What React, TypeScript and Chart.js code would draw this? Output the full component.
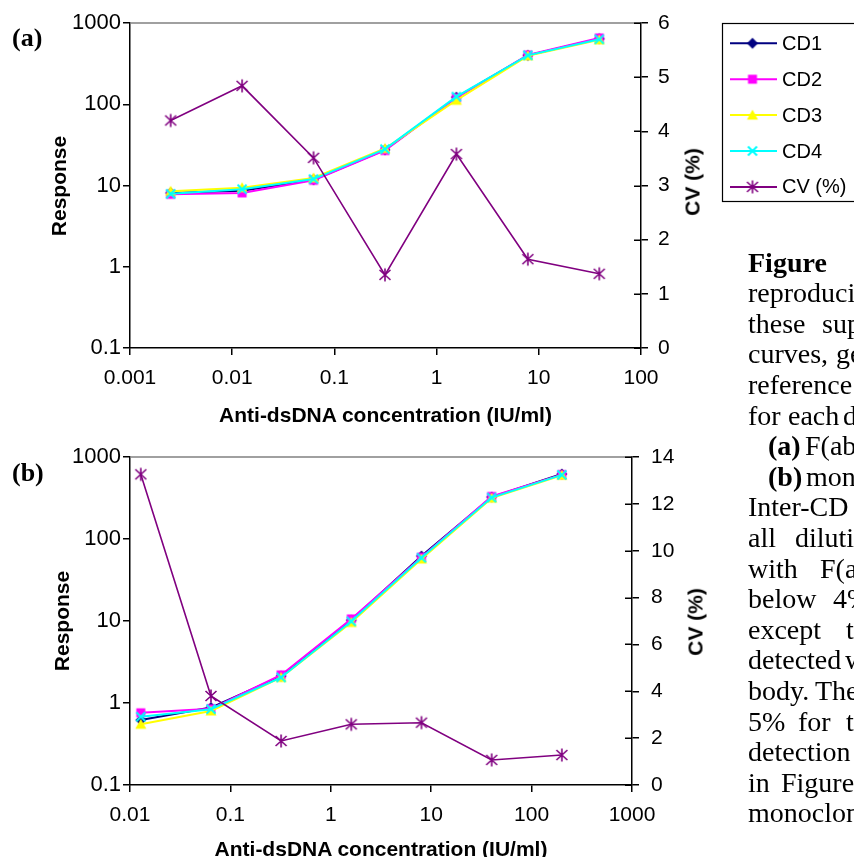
import React, { useEffect, useRef } from 'react';
import { Chart, registerables } from 'chart.js';

Chart.register(...registerables);

const SANS = "'Liberation Sans', Arial, sans-serif";
const SERIF = "'Liberation Serif', 'Times New Roman', serif";

// ---- Panel (a): F(ab')2 reference, concentration in IU/ml ----
const concA = [0.0025, 0.0125, 0.0625, 0.3125, 1.5625, 7.8125, 39.0625];
const cd1A = [8.1, 8.6, 11.8, 27.5, 122, 400, 640];
const cd2A = [7.8, 8.1, 11.6, 27.0, 120, 405, 655];
const cd3A = [8.5, 9.4, 12.4, 28.5, 112, 395, 620];
const cd4A = [7.9, 9.0, 12.0, 28.0, 124, 400, 630];
const cvA = [4.2, 4.84, 3.51, 1.35, 3.58, 1.64, 1.37];

// ---- Panel (b): monoclonal reference ----
const concB = [0.0128, 0.064, 0.32, 1.6, 8, 40, 200];
const cd1B = [0.62, 0.88, 2.13, 10.2, 62, 325, 620];
const cd2B = [0.76, 0.85, 2.2, 10.6, 60, 330, 610];
const cd3B = [0.55, 0.8, 2.05, 9.6, 57, 315, 600];
const cd4B = [0.68, 0.84, 2.05, 9.9, 59, 320, 605];
const cvB = [13.26, 3.8, 1.88, 2.59, 2.66, 1.07, 1.28];

// ---- Axis ticks ----
const responseTicks = [0.1, 1, 10, 100, 1000];
const concTicksA = [0.001, 0.01, 0.1, 1, 10, 100];
const concTicksB = [0.01, 0.1, 1, 10, 100, 1000];
const cvTicksA = [0, 1, 2, 3, 4, 5, 6];
const cvTicksB = [0, 2, 4, 6, 8, 10, 12, 14];

const seriesNames = ['CD1', 'CD2', 'CD3', 'CD4', 'CV (%)'];
const seriesColors = ['#000080', '#FF00FF', '#FFFF00', '#00FFFF', '#800080'];
const markerKinds = ['diamond', 'square', 'triangle', 'cross', 'star'];

const axisTitle = 'Anti-dsDNA concentration (IU/ml)';

// Caption words: [text, left, bold?] per line; the column is cut at the page edge
const captionLines: [string, number, boolean?][][] = [
  [['Figure', 748, true]],
  [['reproducibility', 748]],
  [['these', 748], ['supplementary', 822]],
  [['curves,', 748], ['generated', 836]],
  [['reference', 748]],
  [['for', 748], ['each', 788], ['dilution', 843]],
  [['(a)', 768, true], ["F(ab')2", 805]],
  [['(b)', 768, true], ['monoclonal', 806]],
  [['Inter-CD', 748]],
  [['all', 748], ['dilutions', 795]],
  [['with', 748], ["F(ab')2", 820]],
  [['below', 748], ['4%', 833]],
  [['except', 748], ['the', 846]],
  [['detected', 748], ['with', 845]],
  [['body.', 748], ['The', 815]],
  [['5%', 748], ['for', 798], ['the', 846]],
  [['detection', 748]],
  [['in', 748], ['Figure', 781]],
  [['monoclonal', 748]],
];
const captionFirstBaseline = 272;
const captionLineStep = 30.6;

function makeMarker(kind: string, color: string): HTMLCanvasElement {
  const c = document.createElement('canvas');
  c.width = 16;
  c.height = 16;
  const g = c.getContext('2d')!;
  g.translate(8, 8);
  g.fillStyle = color;
  g.strokeStyle = color;
  g.lineCap = 'butt';
  g.beginPath();
  if (kind === 'diamond') {
    g.moveTo(0, -5.5);
    g.lineTo(5.5, 0);
    g.lineTo(0, 5.5);
    g.lineTo(-5.5, 0);
    g.closePath();
    g.fill();
  } else if (kind === 'square') {
    g.rect(-4.5, -4.5, 9, 9);
    g.fill();
  } else if (kind === 'triangle') {
    g.moveTo(0, -5.5);
    g.lineTo(5.5, 4.5);
    g.lineTo(-5.5, 4.5);
    g.closePath();
    g.fill();
  } else if (kind === 'cross') {
    g.lineWidth = 2;
    g.moveTo(-4.5, -4.5);
    g.lineTo(4.5, 4.5);
    g.moveTo(4.5, -4.5);
    g.lineTo(-4.5, 4.5);
    g.stroke();
  } else {
    g.lineWidth = 1.6;
    g.moveTo(-5.5, -5);
    g.lineTo(5.5, 5);
    g.moveTo(5.5, -5);
    g.lineTo(-5.5, 5);
    g.moveTo(0, -6.5);
    g.lineTo(0, 6.5);
    g.stroke();
  }
  return c;
}

// Gray plot-area top edge and the inner half of the right axis tick marks
const frameDecor = {
  id: 'frameDecor',
  beforeDatasetsDraw(chart: any) {
    const { ctx, chartArea } = chart;
    ctx.save();
    ctx.strokeStyle = '#808080';
    ctx.lineWidth = 1.5;
    ctx.beginPath();
    ctx.moveTo(chartArea.left, chartArea.top);
    ctx.lineTo(chartArea.right, chartArea.top);
    ctx.stroke();
    ctx.restore();
  },
  afterDraw(chart: any) {
    const { ctx, chartArea } = chart;
    const s = chart.scales.y2;
    ctx.save();
    ctx.strokeStyle = '#000';
    ctx.lineWidth = 1.5;
    ctx.beginPath();
    s.ticks.forEach((t: any) => {
      const y = Math.round(s.getPixelForValue(t.value)) + 0.25;
      ctx.moveTo(chartArea.right - 7, y);
      ctx.lineTo(chartArea.right, y);
    });
    ctx.stroke();
    ctx.restore();
  },
};

function makeLegendPlugin(markers: HTMLCanvasElement[]) {
  return {
    id: 'sideLegend',
    afterDraw(chart: any) {
      const ctx = chart.ctx;
      ctx.save();
      ctx.strokeStyle = '#000';
      ctx.lineWidth = 1.2;
      ctx.strokeRect(722.5, 23.5, 150, 178);
      seriesNames.forEach((name, i) => {
        const y = 43.3 + i * 35.9;
        ctx.strokeStyle = seriesColors[i];
        ctx.lineWidth = 2;
        ctx.beginPath();
        ctx.moveTo(730, y);
        ctx.lineTo(777, y);
        ctx.stroke();
        ctx.drawImage(markers[i], 752.5 - 8, y - 8);
        ctx.fillStyle = '#000';
        ctx.font = `20px ${SANS}`;
        ctx.textBaseline = 'middle';
        ctx.textAlign = 'left';
        ctx.fillText(name, 782, y + 1);
      });
      ctx.restore();
    },
  };
}

type PanelSpec = {
  conc: number[];
  cds: number[][];
  cv: number[];
  xMin: number;
  xMax: number;
  xTicks: number[];
  cvMax: number;
  cvTicks: number[];
  padding: { left: number; top: number; right: number; bottom: number };
  rightPad: number;
};

function buildChart(canvas: HTMLCanvasElement, p: PanelSpec, markers: HTMLCanvasElement[], extra: any[]) {
  const tickFont = { family: SANS, size: 21 };
  const grid = { drawOnChartArea: false, drawTicks: true, tickLength: 7, color: '#000', lineWidth: 1.5 };
  const border = { display: true, color: '#000', width: 1.5 };

  const datasets: any[] = p.cds.map((vals, i) => ({
    label: seriesNames[i],
    data: p.conc.map((x, j) => ({ x, y: vals[j] })),
    borderColor: seriesColors[i],
    backgroundColor: seriesColors[i],
    borderWidth: 2,
    pointStyle: markers[i],
    pointRadius: 5,
    yAxisID: 'y',
    order: 4 - i,
  }));
  datasets.push({
    label: seriesNames[4],
    data: p.conc.map((x, j) => ({ x, y: p.cv[j] })),
    borderColor: seriesColors[4],
    backgroundColor: seriesColors[4],
    borderWidth: 1.6,
    pointStyle: markers[4],
    pointRadius: 5,
    yAxisID: 'y2',
    order: 0,
  });

  return new Chart(canvas, {
    type: 'line',
    data: { datasets },
    options: {
      responsive: false,
      animation: false,
      devicePixelRatio: 1,
      events: [],
      layout: { padding: p.padding },
      plugins: { legend: { display: false }, tooltip: { enabled: false } },
      scales: {
        x: {
          type: 'logarithmic',
          position: 'bottom',
          min: p.xMin,
          max: p.xMax,
          afterBuildTicks: (s: any) => {
            s.ticks = p.xTicks.map((v) => ({ value: v }));
          },
          afterFit: (s: any) => {
            s.height = 50;
          },
          ticks: {
            callback: (v: any) => String(v),
            font: tickFont,
            color: '#000',
            padding: 11,
            maxRotation: 0,
            autoSkip: false,
          },
          grid,
          border,
        },
        y: {
          type: 'logarithmic',
          position: 'left',
          min: 0.1,
          max: 1000,
          afterBuildTicks: (s: any) => {
            s.ticks = responseTicks.map((v) => ({ value: v }));
          },
          afterFit: (s: any) => {
            s.width = 130;
          },
          ticks: {
            callback: (v: any) => String(v),
            font: { family: SANS, size: 22 },
            color: '#000',
            padding: 2,
            autoSkip: false,
          },
          grid,
          border,
        },
        y2: {
          type: 'linear',
          position: 'right',
          min: 0,
          max: p.cvMax,
          afterBuildTicks: (s: any) => {
            s.ticks = p.cvTicks.map((v) => ({ value: v }));
          },
          afterFit: (s: any) => {
            s.width = 60;
          },
          ticks: {
            callback: (v: any) => String(v),
            font: tickFont,
            color: '#000',
            padding: p.rightPad,
            autoSkip: false,
          },
          grid,
          border,
        },
      },
    } as any,
    plugins: [frameDecor, ...extra],
  });
}

const centered = (x: number, y: number, rotate = false): React.CSSProperties => ({
  position: 'absolute',
  left: x,
  top: y,
  transform: rotate ? 'translate(-50%, -50%) rotate(-90deg)' : 'translate(-50%, -50%)',
  whiteSpace: 'nowrap',
  fontFamily: SANS,
  fontWeight: 'bold',
  fontSize: 21,
  lineHeight: '21px',
  color: '#000',
});

const panelLabel = (y: number): React.CSSProperties => ({
  position: 'absolute',
  left: 12,
  top: y,
  transform: 'translateY(-50%)',
  fontFamily: SERIF,
  fontWeight: 'bold',
  fontSize: 26,
  lineHeight: '26px',
  color: '#000',
});

export default function App() {
  const refA = useRef<HTMLCanvasElement>(null);
  const refB = useRef<HTMLCanvasElement>(null);

  useEffect(() => {
    document.body.style.overflow = 'hidden';
    const markers = markerKinds.map((k, i) => makeMarker(k, seriesColors[i]));
    const chartA = buildChart(
      refA.current!,
      {
        conc: concA,
        cds: [cd1A, cd2A, cd3A, cd4A],
        cv: cvA,
        xMin: 0.001,
        xMax: 100,
        xTicks: concTicksA,
        cvMax: 6,
        cvTicks: cvTicksA,
        padding: { left: 0, top: 23, right: 153, bottom: 32 },
        rightPad: 10,
      },
      markers,
      [makeLegendPlugin(markers)]
    );
    const chartB = buildChart(
      refB.current!,
      {
        conc: concB,
        cds: [cd1B, cd2B, cd3B, cd4B],
        cv: cvB,
        xMin: 0.01,
        xMax: 1000,
        xTicks: concTicksB,
        cvMax: 14,
        cvTicks: cvTicksB,
        padding: { left: 0, top: 27, right: 162, bottom: 22 },
        rightPad: 12,
      },
      markers,
      []
    );
    return () => {
      chartA.destroy();
      chartB.destroy();
    };
  }, []);

  return (
    <div
      style={{
        position: 'absolute',
        left: 0,
        top: 0,
        width: 854,
        height: 857,
        overflow: 'hidden',
        background: '#fff',
      }}
    >
      <canvas
        ref={refA}
        width={854}
        height={430}
        style={{ position: 'absolute', left: 0, top: 0, width: 854, height: 430 }}
      />
      <canvas
        ref={refB}
        width={854}
        height={427}
        style={{ position: 'absolute', left: 0, top: 430, width: 854, height: 427 }}
      />

      {/* panel labels */}
      <div style={panelLabel(37.5)}>(a)</div>
      <div style={panelLabel(472.5)}>(b)</div>

      {/* axis titles, panel (a) */}
      <div style={centered(58, 186, true)}>Response</div>
      <div style={centered(692, 182, true)}>CV (%)</div>
      <div style={centered(385.5, 414)}>{axisTitle}</div>

      {/* axis titles, panel (b) */}
      <div style={centered(61, 621, true)}>Response</div>
      <div style={centered(695, 622, true)}>CV (%)</div>
      <div style={centered(381, 848)}>{axisTitle}</div>

      {/* caption column */}
      {captionLines.map((line, li) =>
        line.map(([text, x, bold], wi) => (
          <span
            key={`${li}-${wi}`}
            style={{
              position: 'absolute',
              left: x,
              top: captionFirstBaseline + li * captionLineStep - 23.45,
              fontFamily: SERIF,
              fontSize: 28,
              lineHeight: '28px',
              fontWeight: bold ? 'bold' : 'normal',
              whiteSpace: 'nowrap',
              color: '#000',
            }}
          >
            {text}
          </span>
        ))
      )}
    </div>
  );
}
